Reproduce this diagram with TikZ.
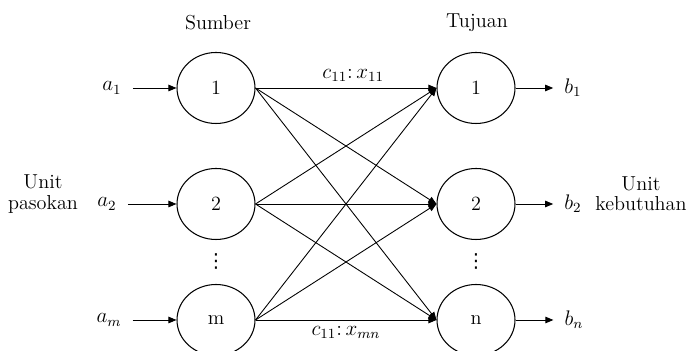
\documentclass[tikz,border=0pt]{standalone}
\usepackage{fontspec}
\usepackage{tikz}
\usetikzlibrary{arrows.meta, shapes.geometric, positioning}
\newfontfamily\dotsfont{DejaVu Sans}

\begin{document}
\begin{tikzpicture}[font=\fontsize{11.5}{11.5}\selectfont,
        station/.style={ellipse, draw, line width=0.6pt, minimum width=1.56cm, minimum height=1.42cm, inner sep=0pt},
        amount/.style={inner sep=1pt, outer sep=0.19cm},
        flow/.style={-{Triangle[length=1.6mm, width=1.3mm]}, line width=0.5pt}]
        \clip (0,0) rectangle (13.82,7.02);
        % sumber dan tujuan
        \node[station] (s1) at (4.32,5.26) {1};
        \node[station] (s2) at (4.32,2.94) {2};
        \node[station] (sm) at (4.32,0.62) {m};
        \node[station] (d1) at (9.52,5.26) {1};
        \node[station] (d2) at (9.52,2.94) {2};
        \node[station] (dn) at (9.52,0.62) {n};
        \node[font=\dotsfont\fontsize{11}{11}\selectfont] (sdots) at (4.32,1.80) {⋮};
        \node[font=\dotsfont\fontsize{11}{11}\selectfont] (ddots) at (9.52,1.80) {⋮};
        \node (sumber) at (4.36,6.56) {Sumber};
        \node (tujuan) at (9.54,6.56) {Tujuan};
        % pasokan dan kebutuhan
        \node[amount] (a1) at (2.24,5.26) {$a_1$};
        \node[amount] (a2) at (2.14,2.94) {$a_2$};
        \node[amount] (am) at (2.18,0.62) {$a_m$};
        \node[amount] (b1) at (11.46,5.26) {$b_1$};
        \node[amount] (b2) at (11.46,2.94) {$b_2$};
        \node[amount] (bn) at (11.48,0.62) {$b_n$};
        \node[align=center] (pasokan) at (0.86,3.14) {Unit\\pasokan};
        \node[align=center] (kebutuhan) at (12.82,3.14) {Unit\\kebutuhan};
        \draw[flow] (a1)--(s1);
        \draw[flow] (a2)--(s2);
        \draw[flow] (am)--(sm);
        \draw[flow] (d1)--(b1);
        \draw[flow] (d2)--(b2);
        \draw[flow] (dn)--(bn);
        % rute pengiriman
        \draw[flow] (s1.east)-- node[above, pos=0.54] {$c_{11}{:}\,x_{11}$} (d1.west);
        \draw[flow] (s1.east)--(d2.west);
        \draw[flow] (s1.east)--(dn.west);
        \draw[flow] (s2.east)--(d1.west);
        \draw[flow] (s2.east)--(d2.west);
        \draw[flow] (s2.east)--(dn.west);
        \draw[flow] (sm.east)--(d1.west);
        \draw[flow] (sm.east)--(d2.west);
        \draw[flow] (sm.east)-- node[below] {$c_{11}{:}\,x_{mn}$} (dn.west);
    \end{tikzpicture}
\end{document}
